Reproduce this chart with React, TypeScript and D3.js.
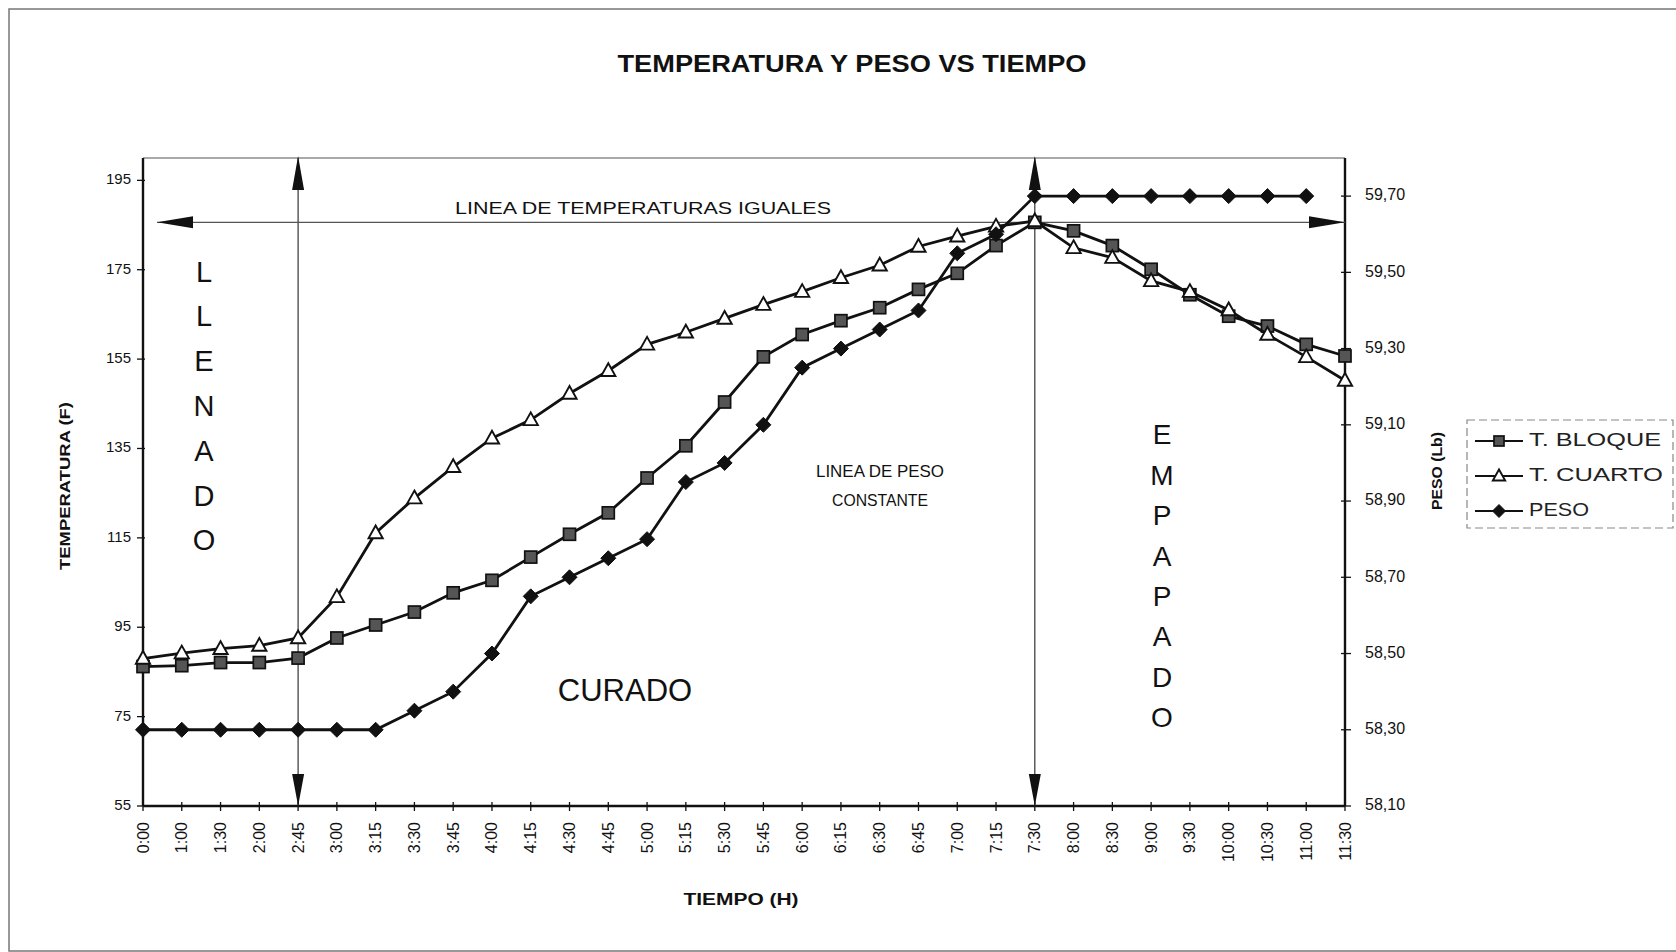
import React from "react";
import * as d3 from "d3";

const times = ["0:00","1:00","1:30","2:00","2:45","3:00","3:15","3:30","3:45","4:00","4:15","4:30","4:45","5:00","5:15","5:30","5:45","6:00","6:15","6:30","6:45","7:00","7:15","7:30","8:00","8:30","9:00","9:30","10:00","10:30","11:00","11:30"];
const tBloque = [86.2, 86.4, 87.1, 87.1, 88.1, 92.6, 95.5, 98.4, 102.7, 105.5, 110.7, 115.8, 120.6, 128.4, 135.6, 145.4, 155.5, 160.5, 163.6, 166.5, 170.6, 174.2, 180.4, 185.6, 183.7, 180.4, 175.1, 169.4, 164.6, 162.4, 158.3, 155.7];
const tCuarto = [88.0, 89.2, 90.2, 90.9, 92.6, 101.8, 116.1, 123.9, 130.9, 137.3, 141.4, 147.3, 152.4, 158.3, 161.0, 164.1, 167.2, 170.1, 173.2, 176.0, 180.2, 182.5, 184.7, 185.9, 179.9, 177.7, 172.5, 170.1, 166.0, 160.5, 155.5, 150.2];
const peso: (number | null)[] = [58.30, 58.30, 58.30, 58.30, 58.30, 58.30, 58.30, 58.35, 58.40, 58.50, 58.65, 58.70, 58.75, 58.80, 58.95, 59.00, 59.10, 59.25, 59.30, 59.35, 59.40, 59.55, 59.60, 59.70, 59.70, 59.70, 59.70, 59.70, 59.70, 59.70, 59.70, null];
const tempTicks = [55, 75, 95, 115, 135, 155, 175, 195];
const pesoTicks = [58.1, 58.3, 58.5, 58.7, 58.9, 59.1, 59.3, 59.5, 59.7];
const equalTemp = 185.6;
const fillEnd = "2:45";
const soakStart = "7:30";
const legendNames = ["T. BLOQUE", "T. CUARTO", "PESO"];
const legendWidths = [132, 134, 60];

const FONT = "'Liberation Sans', Arial, Helvetica, sans-serif";

function Square({ x, y, s = 12 }: { x: number; y: number; s?: number }) {
  return <rect x={x - s / 2} y={y - s / 2} width={s} height={s} fill="#555" stroke="#111" strokeWidth={1.7} />;
}
function Tri({ x, y, s = 7.5 }: { x: number; y: number; s?: number }) {
  return <path d={`M${x},${y - s} L${x + s * 0.95},${y + s * 0.7} L${x - s * 0.95},${y + s * 0.7} Z`} fill="#fff" stroke="#111" strokeWidth={1.9} />;
}
function Diamond({ x, y, s = 7.5 }: { x: number; y: number; s?: number }) {
  return <path d={`M${x},${y - s} L${x + s},${y} L${x},${y + s} L${x - s},${y} Z`} fill="#111" stroke="#111" strokeWidth={1} />;
}

export default function App() {
  const L = 143, R = 1345, T = 158, B = 806;
  const x = d3.scalePoint<string>().domain(times).range([L, R]);
  const yT = d3.scaleLinear().domain([55, 200]).range([B, T]);
  const yP = d3.scaleLinear().domain([58.1, 59.8]).range([B, T]);

  const lineT = d3.line<number>().x((_, i) => x(times[i])!).y((d) => yT(d));
  const lineP = d3
    .line<number | null>()
    .defined((d) => d != null)
    .x((_, i) => x(times[i])!)
    .y((d) => yP(d as number));

  const xf = x(fillEnd)!;
  const xs = x(soakStart)!;
  const ye = yT(equalTemp);
  const aw = 6, ah = 32;
  const fmt = (v: number) => v.toFixed(2).replace(".", ",");

  const llenado = "LLENADO".split("");
  const empapado = "EMPAPADO".split("");

  return (
    <svg width={1676} height={952} style={{ position: "absolute", left: 0, top: 0, background: "#fff" }} fontFamily={FONT}>
      {/* outer frame */}
      <rect x={9} y={9} width={1700} height={942} fill="none" stroke="#777" strokeWidth={1.5} />

      {/* title */}
      <text x={852} y={66} textAnchor="middle" dominantBaseline="middle" fontSize={24} fontWeight="bold" textLength={469} lengthAdjust="spacingAndGlyphs" fill="#111">
        TEMPERATURA Y PESO VS TIEMPO
      </text>

      {/* plot frame */}
      <line x1={L} y1={T} x2={R} y2={T} stroke="#555" strokeWidth={1.2} />
      <line x1={L} y1={T} x2={L} y2={B} stroke="#111" strokeWidth={2.4} />
      <line x1={R} y1={T} x2={R} y2={B} stroke="#111" strokeWidth={2.4} />
      <line x1={L} y1={B} x2={R} y2={B} stroke="#111" strokeWidth={2.4} />

      {/* left ticks */}
      {tempTicks.map((t) => (
        <g key={"lt" + t}>
          <line x1={L - 6} x2={L + 2} y1={yT(t)} y2={yT(t)} stroke="#111" strokeWidth={1.3} />
          <text x={L - 12} y={yT(t)} textAnchor="end" dominantBaseline="middle" fontSize={15} fill="#111">{t}</text>
        </g>
      ))}
      {/* right ticks */}
      {pesoTicks.map((t) => (
        <g key={"rt" + t}>
          <line x1={R - 4} x2={R + 6} y1={yP(t)} y2={yP(t)} stroke="#111" strokeWidth={1.3} />
          <text x={R + 20} y={yP(t)} dominantBaseline="middle" fontSize={16} fill="#111">{fmt(t)}</text>
        </g>
      ))}
      {/* x ticks */}
      {times.map((t) => (
        <g key={"xt" + t}>
          <line x1={x(t)!} x2={x(t)!} y1={B - 4} y2={B + 5} stroke="#111" strokeWidth={1.3} />
          <text transform={`translate(${x(t)!},${B + 16}) rotate(-90)`} textAnchor="end" dominantBaseline="central" fontSize={16} fill="#111">{t}</text>
        </g>
      ))}

      {/* axis titles */}
      <text transform={`translate(66,486) rotate(-90)`} textAnchor="middle" dominantBaseline="middle" fontSize={15} fontWeight="bold" textLength={168} lengthAdjust="spacingAndGlyphs" fill="#111">TEMPERATURA (F)</text>
      <text transform={`translate(1438,471) rotate(-90)`} textAnchor="middle" dominantBaseline="middle" fontSize={15} fontWeight="bold" textLength={78} lengthAdjust="spacingAndGlyphs" fill="#111">PESO (Lb)</text>
      <text x={741} y={901} textAnchor="middle" dominantBaseline="middle" fontSize={16} fontWeight="bold" textLength={115} lengthAdjust="spacingAndGlyphs" fill="#111">TIEMPO (H)</text>

      {/* annotations: vertical lines with arrows */}
      {[xf, xs].map((vx, i) => (
        <g key={"v" + i}>
          <line x1={vx} x2={vx} y1={T} y2={B} stroke="#333" strokeWidth={1.2} />
          <path d={`M${vx},${T - 2} L${vx + aw},${T + ah} L${vx - aw},${T + ah} Z`} fill="#111" />
          <path d={`M${vx},${B} L${vx + aw},${B - ah} L${vx - aw},${B - ah} Z`} fill="#111" />
        </g>
      ))}
      {/* horizontal equal-temperature line */}
      <line x1={L + 14} x2={R} y1={ye} y2={ye} stroke="#555" strokeWidth={1.1} />
      <path d={`M${L + 14},${ye} L${L + 14 + 36},${ye - aw} L${L + 14 + 36},${ye + aw} Z`} fill="#111" />
      <path d={`M${R},${ye} L${R - 36},${ye - aw} L${R - 36},${ye + aw} Z`} fill="#111" />
      <text x={643} y={ye - 13} textAnchor="middle" dominantBaseline="middle" fontSize={17} textLength={376} lengthAdjust="spacingAndGlyphs" fill="#111">LINEA DE TEMPERATURAS IGUALES</text>

      {/* region labels */}
      {llenado.map((c, i) => (
        <text key={"ll" + i} x={204} y={274 + i * 44.8} textAnchor="middle" dominantBaseline="middle" fontSize={29} fill="#111">{c}</text>
      ))}
      {empapado.map((c, i) => (
        <text key={"em" + i} x={1162} y={437 + i * 40.4} textAnchor="middle" dominantBaseline="middle" fontSize={28} fill="#111">{c}</text>
      ))}
      <text x={625} y={693} textAnchor="middle" dominantBaseline="middle" fontSize={31} fill="#111">CURADO</text>
      <text x={880} y={473} textAnchor="middle" dominantBaseline="middle" fontSize={17} textLength={128} lengthAdjust="spacingAndGlyphs" fill="#111">LINEA DE PESO</text>
      <text x={880} y={502} textAnchor="middle" dominantBaseline="middle" fontSize={17} textLength={96} lengthAdjust="spacingAndGlyphs" fill="#111">CONSTANTE</text>

      {/* series */}
      <path d={lineT(tBloque)!} fill="none" stroke="#111" strokeWidth={2.8} />
      {tBloque.map((v, i) => <Square key={"b" + i} x={x(times[i])!} y={yT(v)} />)}
      <path d={lineT(tCuarto)!} fill="none" stroke="#111" strokeWidth={2.8} />
      {tCuarto.map((v, i) => <Tri key={"c" + i} x={x(times[i])!} y={yT(v)} />)}
      <path d={lineP(peso)!} fill="none" stroke="#111" strokeWidth={2.8} />
      {peso.map((v, i) => (v == null ? null : <Diamond key={"p" + i} x={x(times[i])!} y={yP(v)} />))}

      {/* legend */}
      <rect x={1467} y={420} width={206} height={108} fill="none" stroke="#888" strokeWidth={1.2} strokeDasharray="8 4" />
      {legendNames.map((n, i) => {
        const ly = 441 + i * 35;
        return (
          <g key={"lg" + i}>
            <line x1={1475} x2={1523} y1={ly} y2={ly} stroke="#111" strokeWidth={2} />
            {i === 0 && <Square x={1499} y={ly} s={10} />}
            {i === 1 && <Tri x={1499} y={ly} s={6.5} />}
            {i === 2 && <Diamond x={1499} y={ly} s={6.5} />}
            <text x={1529} y={ly} dominantBaseline="middle" fontSize={19} textLength={legendWidths[i]} lengthAdjust="spacingAndGlyphs" fill="#222">{n}</text>
          </g>
        );
      })}
    </svg>
  );
}
